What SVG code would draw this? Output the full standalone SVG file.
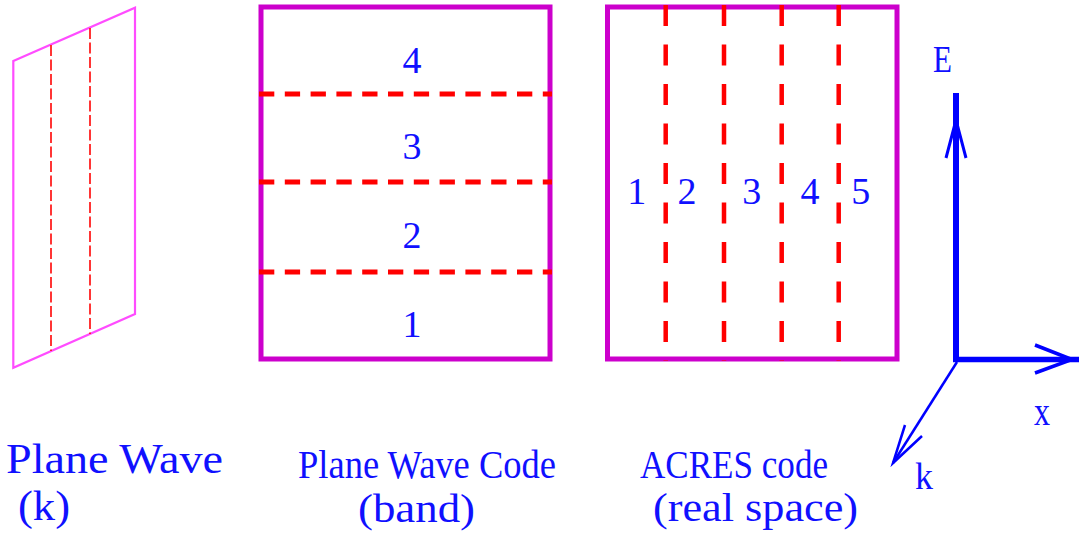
<svg xmlns="http://www.w3.org/2000/svg" width="1080" height="540" viewBox="0 0 1080 540">
<style>
text{font-family:'Liberation Serif','DejaVu Serif','Times New Roman',Times,serif;fill:#1010ff}
.box{fill:none;stroke:#cc00cc;stroke-width:5}
.hd{stroke:#ff0000;stroke-width:5;stroke-dasharray:15.3 10.5;fill:none}
.vd{stroke:#ff0000;stroke-width:4.5;stroke-dasharray:21 18.5;fill:none}
.pd{stroke:#ff2020;stroke-width:1.8;stroke-dasharray:11 3.5;fill:none}
.ax{stroke:#0000ff;fill:none;stroke-linecap:butt}
</style>
<rect width="1080" height="540" fill="#ffffff"/>
<g id="plane-wave">
<polygon points="13.3,61 135,7.7 135,314 13.3,367.7" fill="none" stroke="#ff4cff" stroke-width="2.2"/>
<line class="pd" x1="51" y1="45" x2="51" y2="351"/>
<line class="pd" x1="90" y1="28" x2="90" y2="334"/>
<text x="6" y="473" font-size="42" textLength="217" lengthAdjust="spacingAndGlyphs">Plane Wave</text>
<text x="18" y="520" font-size="42" textLength="52" lengthAdjust="spacingAndGlyphs">(k)</text>
</g>
<g id="plane-wave-code">
<rect class="box" x="261" y="7" width="289" height="352"/>
<line class="hd" x1="259" y1="94" x2="552" y2="94"/>
<line class="hd" x1="259" y1="182" x2="552" y2="182"/>
<line class="hd" x1="259" y1="272" x2="552" y2="272"/>
<g font-size="38" text-anchor="middle">
<text x="412" y="73">4</text>
<text x="412" y="159">3</text>
<text x="412" y="248">2</text>
<text x="412" y="337">1</text>
</g>
<text x="298" y="478" font-size="41" textLength="258" lengthAdjust="spacingAndGlyphs">Plane Wave Code</text>
<text x="358" y="522" font-size="41" textLength="117" lengthAdjust="spacingAndGlyphs">(band)</text>
</g>
<g id="acres-code">
<rect class="box" x="607.5" y="7" width="289.5" height="352"/>
<line class="vd" x1="665.7" y1="5" x2="665.7" y2="361"/>
<line class="vd" x1="724" y1="5" x2="724" y2="361"/>
<line class="vd" x1="781.7" y1="5" x2="781.7" y2="361" stroke-width="6.5"/>
<line class="vd" x1="838.7" y1="5" x2="838.7" y2="361"/>
<g font-size="38" text-anchor="middle">
<text x="636.7" y="204">1</text>
<text x="687" y="204">2</text>
<text x="751.7" y="204">3</text>
<text x="810" y="204">4</text>
<text x="860.7" y="204">5</text>
</g>
<text x="640" y="478" font-size="41" textLength="188" lengthAdjust="spacingAndGlyphs">ACRES code</text>
<text x="653" y="521" font-size="41" textLength="205" lengthAdjust="spacingAndGlyphs">(real space)</text>
</g>
<g id="axes">
<line class="ax" x1="956" y1="93" x2="956" y2="362" stroke-width="6"/>
<line class="ax" x1="953" y1="359.5" x2="1079" y2="359.5" stroke-width="5.5"/>
<polyline class="ax" points="946,158 956,120 966,158" stroke-width="3"/>
<polyline class="ax" points="1035,345 1072,359.5 1035,373" stroke-width="3.5"/>
<line class="ax" x1="957" y1="362" x2="893" y2="463" stroke-width="2.5"/>
<polyline class="ax" points="905,425 893,463 922,436" stroke-width="2.5"/>
<text x="942.5" y="72" font-size="38" text-anchor="middle" textLength="19" lengthAdjust="spacingAndGlyphs">E</text>
<text x="1034" y="425" font-size="42" textLength="16" lengthAdjust="spacingAndGlyphs">x</text>
<text x="915" y="489" font-size="38" textLength="18" lengthAdjust="spacingAndGlyphs">k</text>
</g>
</svg>
